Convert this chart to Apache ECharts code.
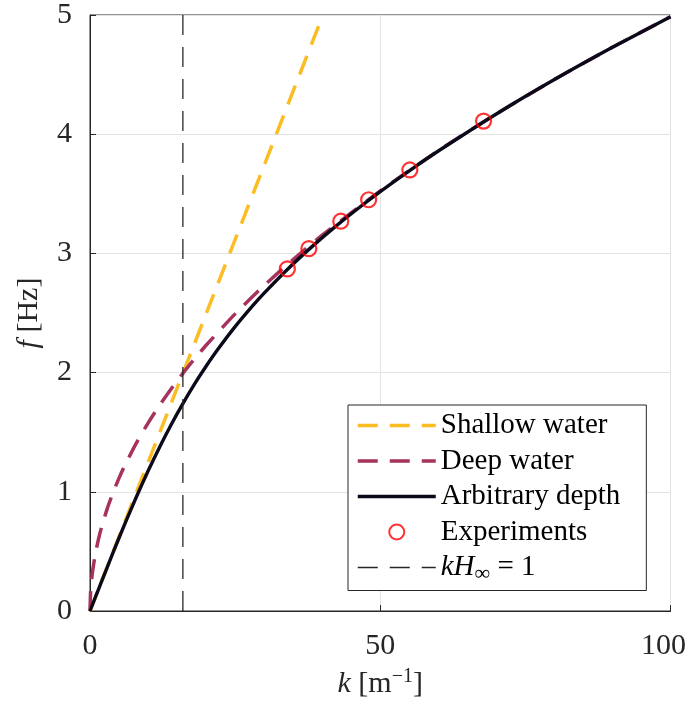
<!DOCTYPE html>
<html>
<head>
<meta charset="utf-8">
<script src="https://cdn.jsdelivr.net/npm/echarts@6/dist/echarts.min.js"></script>
<style>
html,body{margin:0;padding:0;background:#fff;}
#chart{width:689px;height:706px;}
</style>
</head>
<body>
<div id="chart"></div>
<script>
// Shallow water: straight line through origin
const kShallow = [0, 40.12];
const fShallow = [0, 5];
// Deep water
const kDeep = [0, 0.1, 0.25, 0.5, 1, 1.5, 2, 3, 4, 5, 6, 8, 10, 12, 14, 16, 18, 20, 25, 30, 35, 40, 50, 60, 70, 80, 90, 100];
const fDeep = [0, 0.1576, 0.2492, 0.3525, 0.4985, 0.6105, 0.7050, 0.8634, 0.9970, 1.1147, 1.2211, 1.4099, 1.5764, 1.7268, 1.8652, 1.9940, 2.1149, 2.2293, 2.4925, 2.7304, 2.9491, 3.1528, 3.5249, 3.8613, 4.1707, 4.4587, 4.7291, 4.9849];
// Arbitrary depth
const kArb = [0, 1, 2, 4, 6, 8, 10, 12, 14, 16, 18, 20, 22, 25, 28, 30, 34, 38, 42, 46, 50, 55, 60, 70, 80, 90, 100];
const fArb = [0, 0.1245, 0.2486, 0.4934, 0.7310, 0.9584, 1.1740, 1.3762, 1.5652, 1.7401, 1.9031, 2.0532, 2.1931, 2.3853, 2.5593, 2.6669, 2.8655, 3.0464, 3.2137, 3.3702, 3.5181, 3.6931, 3.8592, 4.1700, 4.4585, 4.7290, 4.9849];
// Experiments
const kExp = [34.0, 37.7, 43.2, 48.0, 55.1, 67.8];
const fExp = [2.87, 3.04, 3.27, 3.45, 3.70, 4.11];
// kH_inf = 1 line
const kLine = [16, 16];
const fLine = [0, 5];
// Axis ticks
const xTicks = [0, 50, 100];
const yTicks = [0, 1, 2, 3, 4, 5];

const names = ['Shallow water', 'Deep water', 'Arbitrary depth', 'Experiments', 'kHinf'];
const pair = (xs, ys) => xs.map((x, i) => [x, ys[i]]);

const FONT = 'Liberation Serif';
const TC = '#262626';
const C_SH = '#FBBC24', C_DP = '#A8325E', C_AR = '#0A0A1A', C_EX = '#FF0000', C_KH = '#262626';
const chart = echarts.init(document.getElementById('chart'), null, {renderer: 'canvas'});

const hideSym = {opacity: 0};

chart.setOption({
  animation: false,
  backgroundColor: '#fff',
  grid: {left: 90, top: 11, right: 18, bottom: 95, show: true, borderColor: TC, borderWidth: 1, backgroundColor: '#fff'},
  xAxis: {
    type: 'value', min: xTicks[0], max: xTicks[xTicks.length - 1], interval: 50,
    axisLine: {show: true, lineStyle: {color: TC, width: 1}},
    axisTick: {show: true, inside: true, length: 6, lineStyle: {color: TC}},
    splitLine: {show: true, lineStyle: {color: '#e3e3e3', width: 1}},
    axisLabel: {
      margin: 20, color: TC, fontFamily: FONT, fontSize: 30,
      formatter: v => v === 100 ? '{r|100}' : String(v),
      rich: {r: {fontFamily: FONT, fontSize: 30, color: TC, padding: [0, 14, 0, 0]}}
    },
    name: '{i|k} [m{s|−1}]', nameLocation: 'middle', nameGap: 56,
    nameTextStyle: {
      fontFamily: FONT, fontSize: 30, color: TC,
      rich: {
        i: {fontFamily: FONT, fontSize: 30, fontStyle: 'italic', color: TC},
        s: {fontFamily: FONT, fontSize: 20, color: TC, padding: [0, 0, 14, 0]}
      }
    }
  },
  yAxis: {
    type: 'value', min: yTicks[0], max: yTicks[yTicks.length - 1], interval: 1,
    axisLine: {show: true, lineStyle: {color: TC, width: 1}},
    axisTick: {show: true, inside: true, length: 6, lineStyle: {color: TC}},
    splitLine: {show: true, lineStyle: {color: '#e3e3e3', width: 1}},
    axisLabel: {margin: 18, color: TC, fontFamily: FONT, fontSize: 30},
    name: '{i|f} [Hz]', nameLocation: 'middle', nameGap: 46, nameRotate: 90,
    nameTextStyle: {
      fontFamily: FONT, fontSize: 30, color: TC,
      rich: {i: {fontFamily: FONT, fontSize: 30, fontStyle: 'italic', color: TC}}
    }
  },
  legend: {
    orient: 'vertical', left: 348, top: 405,
    padding: [6, 26, 5, 8], itemGap: 6.5, itemWidth: 78, itemHeight: 15,
    backgroundColor: '#fff', borderColor: TC, borderWidth: 1, borderRadius: 0,
    data: [
      {name: names[0], itemStyle: hideSym, lineStyle: {width: 3.5, color: C_SH, type: [20, 12]}},
      {name: names[1], itemStyle: hideSym, lineStyle: {width: 3.5, color: C_DP, type: [20, 12]}},
      {name: names[2], itemStyle: hideSym, lineStyle: {width: 3.5, color: C_AR}},
      {name: names[3]},
      {name: names[4], itemStyle: hideSym, lineStyle: {width: 1.3, color: C_KH, type: [20, 12]}}
    ],
    formatter: n => n === 'kHinf' ? '{i|kH}{s|∞}{n| = 1}' : n,
    textStyle: {
      fontFamily: FONT, fontSize: 29, color: '#000', lineHeight: 29,
      rich: {
        i: {fontFamily: FONT, fontSize: 29, fontStyle: 'italic', color: '#000'},
        s: {fontFamily: FONT, fontSize: 22, color: '#000', padding: [14, 0, 0, 0]},
        n: {fontFamily: FONT, fontSize: 29, color: '#000'}
      }
    }
  },
  series: [
    {
      name: names[0], type: 'line', data: pair(kShallow, fShallow), symbol: 'none',
      lineStyle: {color: C_SH, width: 3.5, type: [20, 12]}, itemStyle: {color: C_SH}, z: 2
    },
    {
      name: names[1], type: 'line', data: pair(kDeep, fDeep), symbol: 'none', smooth: 0.2,
      lineStyle: {color: C_DP, width: 3.5, type: [20, 12]}, itemStyle: {color: C_DP}, z: 3
    },
    {
      name: names[2], type: 'line', data: pair(kArb, fArb), symbol: 'none', smooth: 0.2,
      lineStyle: {color: C_AR, width: 3.4}, itemStyle: {color: C_AR}, z: 4
    },
    {
      name: names[3], type: 'scatter', data: pair(kExp, fExp), symbol: 'circle', symbolSize: 15,
      itemStyle: {color: 'rgba(0,0,0,0)', borderColor: C_EX, borderWidth: 2.2}, z: 5
    },
    {
      name: names[4], type: 'line', data: pair(kLine, fLine), symbol: 'none',
      lineStyle: {color: C_KH, width: 1.3, type: [20, 12]}, itemStyle: {color: C_KH}, z: 6
    }
  ]
});
</script>
</body>
</html>
